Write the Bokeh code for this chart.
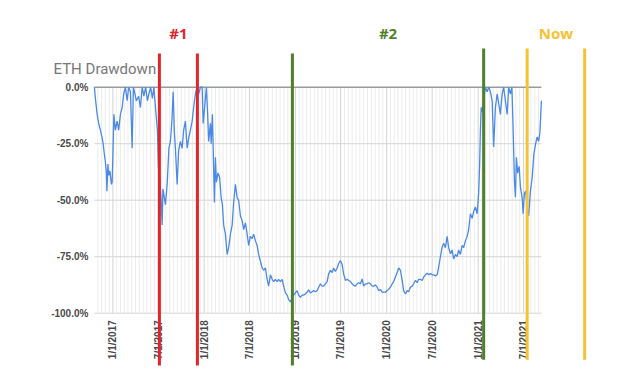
import numpy as np
import pandas as pd
from bokeh.plotting import figure
from bokeh.models import Range1d, Label
from bokeh.core.properties import value
from bokeh.embed import file_html
from bokeh.resources import INLINE

# ---------------- data ----------------
dates_2016 = ["2016-10-19", "2016-10-23", "2016-10-30", "2016-11-05", "2016-11-12", "2016-11-18",
              "2016-11-23", "2016-11-28", "2016-12-02", "2016-12-06", "2016-12-08", "2016-12-12",
              "2016-12-15", "2016-12-20", "2016-12-26", "2016-12-29"]
dd_2016 = [0, -5, -12, -16, -19, -22,
           -25, -30, -33, -38, -46, -34,
           -39, -37, -43, -42]

dates_2017 = ["2017-01-01", "2017-01-05", "2017-01-11", "2017-01-18", "2017-01-24", "2017-01-31",
              "2017-02-07", "2017-02-13", "2017-02-20", "2017-02-27", "2017-03-05", "2017-03-12",
              "2017-03-19", "2017-03-24", "2017-04-05", "2017-04-14", "2017-04-21", "2017-04-28",
              "2017-05-05", "2017-05-12", "2017-05-19", "2017-05-25", "2017-06-01", "2017-06-08",
              "2017-06-14", "2017-06-21", "2017-06-28", "2017-07-02", "2017-07-07", "2017-07-13",
              "2017-07-17", "2017-07-20", "2017-07-23", "2017-07-30", "2017-08-06", "2017-08-13",
              "2017-08-19", "2017-08-25", "2017-08-30", "2017-09-04", "2017-09-08", "2017-09-15",
              "2017-09-21", "2017-09-28", "2017-10-05", "2017-10-11", "2017-10-18", "2017-10-25",
              "2017-11-01", "2017-11-07", "2017-11-14", "2017-11-20", "2017-11-27", "2017-12-04",
              "2017-12-10", "2017-12-17", "2017-12-24", "2017-12-28"]
dd_2017 = [-30, -12, -19, -15, -19, -12,
           -9, -3, 0, -6, 0, -2,
           -27, 0, -6, -4, -9, 0,
           -4, 0, -6, -3, 0, -5,
           0, -10, -19, -35, -40, -50,
           -61, -45, -47, -52, -43, -27,
           -24, -15, -2, -20, -27, -43,
           -28, -24, -27, -19, -15, -27,
           -22, -19, -15, -9, -3, 0,
           -3, 0, 0, -16]

dates_2018 = ["2018-01-02", "2018-01-10", "2018-01-15", "2018-01-19", "2018-01-26", "2018-01-29",
              "2018-02-03", "2018-02-08", "2018-02-11", "2018-02-15", "2018-02-19", "2018-02-25",
              "2018-03-04", "2018-03-10", "2018-03-15", "2018-03-20", "2018-03-27", "2018-04-03",
              "2018-04-09", "2018-04-16", "2018-04-23", "2018-04-29", "2018-05-06", "2018-05-13",
              "2018-05-19", "2018-05-26", "2018-06-02", "2018-06-08", "2018-06-15", "2018-06-22",
              "2018-06-28", "2018-07-05", "2018-07-12", "2018-07-18", "2018-07-25", "2018-08-01",
              "2018-08-07", "2018-08-14", "2018-08-21", "2018-08-27", "2018-09-03", "2018-09-10",
              "2018-09-16", "2018-09-23", "2018-09-30", "2018-10-06", "2018-10-13", "2018-10-20",
              "2018-10-26", "2018-11-02", "2018-11-09", "2018-11-15", "2018-11-22", "2018-11-29",
              "2018-12-05", "2018-12-12", "2018-12-19", "2018-12-25"]
dd_2018 = [-10, 0, -12, -24, -16, -25,
           -12, -36, -51, -31, -42, -38,
           -40, -49, -52, -61, -65, -74,
           -71, -65, -61, -51, -43, -49,
           -50, -57, -59, -63, -60, -65,
           -70, -66, -67, -65, -68, -70,
           -74, -77, -80, -81, -80, -85,
           -88, -83, -85, -86, -85, -86,
           -85, -86, -85, -88, -91, -92,
           -94, -95, -93, -92]

dates_2019 = ["2019-01-01", "2019-01-08", "2019-01-14", "2019-01-21", "2019-01-28", "2019-02-03",
              "2019-02-10", "2019-02-17", "2019-02-23", "2019-03-02", "2019-03-09", "2019-03-15",
              "2019-03-22", "2019-03-29", "2019-04-04", "2019-04-11", "2019-04-18", "2019-04-24",
              "2019-05-01", "2019-05-08", "2019-05-14", "2019-05-21", "2019-05-28", "2019-06-03",
              "2019-06-10", "2019-06-17", "2019-06-23", "2019-06-30", "2019-07-07", "2019-07-13",
              "2019-07-20", "2019-07-27", "2019-08-02", "2019-08-09", "2019-08-16", "2019-08-22",
              "2019-08-29", "2019-09-05", "2019-09-11", "2019-09-18", "2019-09-25", "2019-10-01",
              "2019-10-08", "2019-10-15", "2019-10-21", "2019-10-28", "2019-11-04", "2019-11-10",
              "2019-11-17", "2019-11-24", "2019-11-30", "2019-12-07", "2019-12-14", "2019-12-20",
              "2019-12-27"]
dd_2019 = [-91, -90, -92, -93, -92, -92,
           -91.5, -90.7, -89.7, -91, -90.5, -90,
           -90.5, -90, -88.5, -87, -88, -88,
           -87, -86, -82.6, -81, -82, -80,
           -81.5, -80, -78, -76.7, -78.5, -82.6,
           -85.5, -85, -85.5, -86, -87, -87.7,
           -88, -87, -86.5, -87, -84.8, -88,
           -87, -87, -86.5, -87, -88, -88,
           -87.5, -88.5, -90, -89.5, -90.7, -90.7,
           -90.7]

dates_2020 = ["2020-01-03", "2020-01-09", "2020-01-16", "2020-01-23", "2020-01-29", "2020-02-05",
              "2020-02-12", "2020-02-18", "2020-02-25", "2020-03-03", "2020-03-09", "2020-03-16",
              "2020-03-23", "2020-03-29", "2020-04-05", "2020-04-12", "2020-04-18", "2020-04-25",
              "2020-05-02", "2020-05-08", "2020-05-15", "2020-05-22", "2020-05-28", "2020-06-04",
              "2020-06-11", "2020-06-17", "2020-06-24", "2020-07-01", "2020-07-07", "2020-07-14",
              "2020-07-21", "2020-07-27", "2020-08-03", "2020-08-10", "2020-08-16", "2020-08-23",
              "2020-08-30", "2020-09-05", "2020-09-12", "2020-09-19", "2020-09-25", "2020-10-02",
              "2020-10-09", "2020-10-15", "2020-10-22", "2020-10-29", "2020-11-04", "2020-11-11",
              "2020-11-18", "2020-11-24", "2020-12-01", "2020-12-08", "2020-12-14", "2020-12-21",
              "2020-12-28"]
dd_2020 = [-90, -89.5, -88.5, -87, -86, -84,
           -82, -80, -81, -85.5, -90, -91.5,
           -90, -90.5, -88.5, -88, -87, -85.5,
           -86.5, -85, -85, -85.5, -84, -83,
           -82.3, -83, -82.5, -83, -83, -83.5,
           -83, -79.6, -75, -70.8, -69, -71,
           -66, -71, -73.7, -72, -76, -74,
           -75, -72, -74, -70, -71, -68,
           -66, -63, -56, -58, -55, -53,
           -56]

dates_2021 = ["2021-01-03", "2021-01-07", "2021-01-10", "2021-01-13", "2021-01-18", "2021-01-24",
              "2021-01-30", "2021-02-06", "2021-02-12", "2021-02-19", "2021-02-26", "2021-03-04",
              "2021-03-11", "2021-03-18", "2021-03-24", "2021-03-31", "2021-04-07", "2021-04-13",
              "2021-04-20", "2021-04-27", "2021-05-03", "2021-05-10", "2021-05-16", "2021-05-21",
              "2021-05-26", "2021-05-30", "2021-06-03", "2021-06-08", "2021-06-14", "2021-06-19",
              "2021-06-26", "2021-06-30", "2021-07-05", "2021-07-10", "2021-07-16", "2021-07-22",
              "2021-07-29", "2021-08-05", "2021-08-12", "2021-08-19", "2021-08-25", "2021-08-31",
              "2021-09-05", "2021-09-11"]
dd_2021 = [-47, -34, -19, -9, -11, -4.4,
           0, -2, 0, -2, -6, -26.5,
           -9, -3, -7, -12, -3, 0,
           -6, -12, 0, -3, 0, -19,
           -41, -48.7, -31, -38, -35, -44,
           -49, -56, -47, -46, -53, -57,
           -46, -40, -29.5, -25, -22, -24,
           -20, -6]

y_ticks = [0, -25, -50, -75, -100]
y_tick_labels = ["0.0%", "-25.0%", "-50.0%", "-75.0%", "-100.0%"]
x_ticks = ["2017-01-01", "2017-07-01", "2018-01-01", "2018-07-01", "2019-01-01",
           "2019-07-01", "2020-01-01", "2020-07-01", "2021-01-01", "2021-07-01"]
x_tick_labels = ["1/1/2017", "7/1/2017", "1/1/2018", "7/1/2018", "1/1/2019",
                 "7/1/2019", "1/1/2020", "7/1/2020", "1/1/2021", "7/1/2021"]

title_text = "ETH Drawdown"
period_names = ["#1", "#2", "Now"]
period_starts = ["2017-07-06", "2018-12-20", "2021-07-16"]
period_ends = ["2017-12-05", "2021-01-23", "2022-03-03"]

# ---------------- assemble ----------------
all_dates = dates_2016 + dates_2017 + dates_2018 + dates_2019 + dates_2020 + dates_2021
all_dd = dd_2016 + dd_2017 + dd_2018 + dd_2019 + dd_2020 + dd_2021
assert len(all_dates) == len(all_dd)


def to_ms(d):
    return pd.to_datetime(d).values.astype("datetime64[ms]").astype("int64").astype(float)


x_ms = to_ms(all_dates)
tick_ms = to_ms(x_ticks)
start_ms, end_ms = x_ms[0], x_ms[-1]
ps_ms = to_ms(period_starts)
pe_ms = to_ms(period_ends)

# ---------------- layout constants ----------------
W, H = 621, 369
DAY = 86400000.0
PX_PER_DAY = 0.25
ORIGIN_PX = 112.4            # canvas x of 2017-01-01
origin_ms = to_ms(["2017-01-01"])[0]
PX_PER_PCT = 2.26
ZERO_PX = 86.7               # canvas y of 0 %

x0 = origin_ms - ORIGIN_PX / PX_PER_DAY * DAY
x1 = origin_ms + (W - ORIGIN_PX) / PX_PER_DAY * DAY
y_top = ZERO_PX / PX_PER_PCT
y_bot = -(H - ZERO_PX) / PX_PER_PCT

p = figure(width=W, height=H, output_backend="svg", toolbar_location=None,
           x_axis_type=None, y_axis_type=None,
           x_range=Range1d(x0, x1), y_range=Range1d(y_bot, y_top),
           min_border=0, min_border_left=0, min_border_right=0,
           min_border_top=0, min_border_bottom=0)
p.outline_line_color = None
p.background_fill_color = "white"
p.border_fill_color = "white"

# minor vertical gridlines
minor = []
for a, b in zip(tick_ms[:-1], tick_ms[1:]):
    minor.extend(np.linspace(a, b, 13)[1:-1])
step = (tick_ms[1] - tick_ms[0]) / 12
t = tick_ms[0] - step
while t > start_ms:
    minor.append(t)
    t -= step
t = tick_ms[-1] + step
while t < end_ms:
    minor.append(t)
    t += step
minor = np.array(minor)
p.segment(x0=minor, y0=[0] * len(minor), x1=minor, y1=[-100] * len(minor),
          line_color="#ececec", line_width=1)
# major vertical gridlines
p.segment(x0=tick_ms, y0=[0] * len(tick_ms), x1=tick_ms, y1=[-100] * len(tick_ms),
          line_color="#d2d2d2", line_width=1)
# horizontal gridlines
hy = [v for v in y_ticks if v != 0]
p.segment(x0=[start_ms] * len(hy), y0=hy, x1=[end_ms] * len(hy), y1=hy,
          line_color="#d6d6d6", line_width=1)
p.segment(x0=[start_ms], y0=[0], x1=[end_ms], y1=[0], line_color="#9a9a9a", line_width=1.6)

# the drawdown line
p.line(x_ms, all_dd, line_color="#4a89e6", line_width=1.3)

# y tick labels
p.text(x=[start_ms] * len(y_ticks), y=y_ticks, text=y_tick_labels,
       x_offset=-6, text_align="right", text_baseline="middle",
       text_font=value("Liberation Sans"), text_font_size="10px",
       text_font_style="bold", text_color="#4a4a4a")
# x tick labels (rotated)
p.text(x=tick_ms, y=[-100] * len(tick_ms), text=x_tick_labels,
       y_offset=7, angle=np.pi / 2, text_align="right", text_baseline="middle",
       text_font=value("Liberation Sans"), text_font_size="10px",
       text_font_style="bold", text_color="#4a4a4a")

# title
p.add_layout(Label(x=53, y=H - 68.3, x_units="screen", y_units="screen",
                   text=title_text, text_font="Roboto", text_font_size="15px",
                   text_color="#777777", text_baseline="alphabetic"))

# period markers
colors = ["#e0262b", "#4f7f2c", "#f4c232"]
tops = [14.9, 17.1, 17.1]
bottoms = [-123.1, -120.6, -120.6]
top_first = [14.9, 14.9, 17.1]
bot_first = [-123.1, -123.1, -120.6]
p.segment(x0=ps_ms, y0=bot_first, x1=ps_ms, y1=top_first, line_color=colors, line_width=3)
p.segment(x0=pe_ms, y0=bottoms, x1=pe_ms, y1=tops, line_color=colors, line_width=3)
mid = (ps_ms + pe_ms) / 2
p.text(x=mid, y=[23.8] * 3, text=period_names, text_align="center", text_baseline="middle",
       text_font=value("Open Sans"), text_font_size="15px", text_font_style="bold",
       text_color=colors)

open("out.html", "w").write(file_html(p, INLINE))
